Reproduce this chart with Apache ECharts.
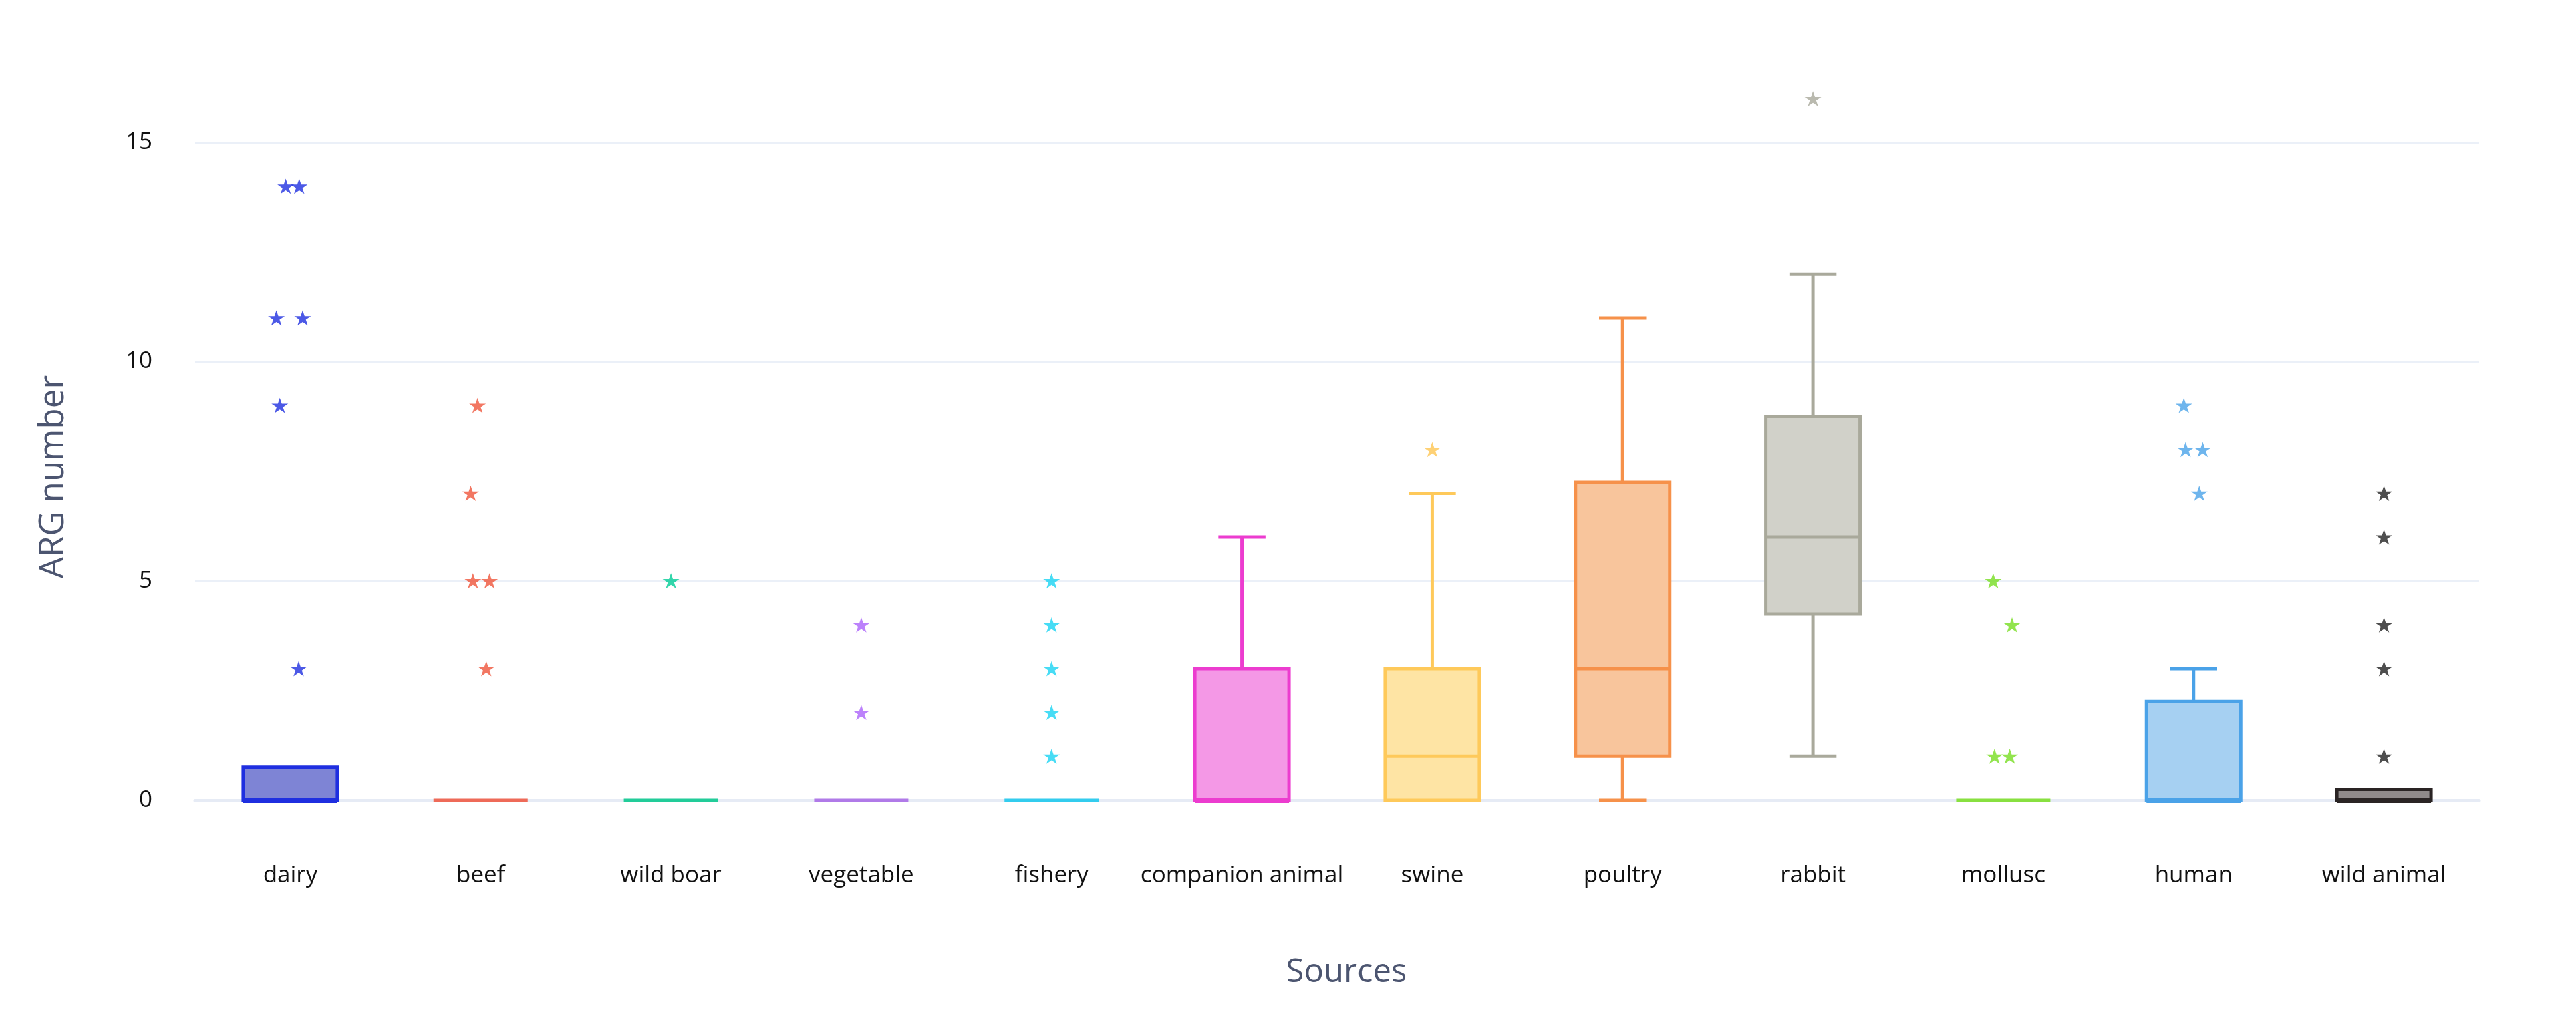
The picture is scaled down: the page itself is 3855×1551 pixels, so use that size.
<!DOCTYPE html>
<html>
<head>
<meta charset="utf-8">
<script src="https://cdn.jsdelivr.net/npm/echarts@6/dist/echarts.min.js"></script>
<style>html,body{margin:0;padding:0;background:#fff}#c{width:3855px;height:1551px}</style>
</head>
<body>
<div id="c"></div>
<script>
// ---- data ----
const categories = ['dairy','beef','wild boar','vegetable','fishery','companion animal','swine','poultry','rabbit','mollusc','human','wild animal'];
// [min, Q1, median, Q3, max] (whisker ends and box)
const boxMin    = [0,    0, 0, 0, 0, 0, 0, 0,    1,    0, 0,    0];
const boxQ1     = [0,    0, 0, 0, 0, 0, 0, 1,    4.25, 0, 0,    0];
const boxMedian = [0,    0, 0, 0, 0, 0, 1, 3,    6,    0, 0,    0];
const boxQ3     = [0.75, 0, 0, 0, 0, 3, 3, 7.25, 8.75, 0, 2.25, 0.25];
const boxMax    = [0.75, 0, 0, 0, 0, 6, 7, 11,   12,   0, 3,    0.25];
// outliers: category index, value, horizontal jitter (fraction of category band)
const outlierCat    = [0,0,0,0,0,0, 1,1,1,1,1, 2, 3,3, 4,4,4,4,4, 6, 8, 9,9,9,9, 10,10,10,10, 11,11,11,11,11];
const outlierValue  = [14,14,11,11,9,3, 9,7,5,5,3, 5, 4,2, 5,4,3,2,1, 8, 16, 5,4,1,1, 9,8,8,7, 7,6,4,3,1];
const outlierJitter = [-0.024,0.047,-0.073,0.065,-0.055,0.044, -0.016,-0.052,-0.04,0.047,0.03, 0, 0,0, 0,0,0,0,0, 0, 0, -0.053,0.046,-0.046,0.034, -0.051,-0.042,0.048,0.03, 0,0,0,0,0];
const yTicks = [0, 5, 10, 15];

// ---- styles ----
const lineColors = ['#1f2fe0','#ee6a58','#22cc99','#b07ae8','#33ccee','#ec3ccf','#fec95a','#f6914a','#a9a99b','#88e040','#4aa2e8','#2a2424'];
const fillColors = ['#7e84d5','#f6b4aa','#90e6cc','#d8bcf4','#99e6f6','#f498e6','#fee4a4','#f8c59c','#d1d1c9','#c4f0a0','#a6d0f2','#908a8a'];
const starColors = ['#1f2fe0','#ef553b','#00cc96','#ab63fa','#19d3f3','#ec3ccf','#fec552','#f6914a','#a9a99b','#77dd22','#4aa2e8','#222222'];
const STAR = 'path://M0,-100L22.45,-30.9L95.1,-30.9L36.3,11.8L58.8,80.9L0,38.2L-58.8,80.9L-36.3,11.8L-95.1,-30.9L-22.45,-30.9Z';

const boxData = categories.map((c, i) => [i, boxMin[i], boxQ1[i], boxMedian[i], boxQ3[i], boxMax[i]]);
const outlierData = outlierCat.map((ci, k) => ({
  value: [ci + outlierJitter[k], outlierValue[k]],
  itemStyle: { color: starColors[ci] }
}));

const chart = echarts.init(document.getElementById('c'), null, { renderer: 'canvas' });
const LW = 5;

function renderBox(params, api) {
  const i = api.value(0);
  const vmin = api.value(1), q1 = api.value(2), med = api.value(3), q3 = api.value(4), vmax = api.value(5);
  const band = api.size([1, 0])[0];
  const bw = band * 0.495;
  const x = api.coord([i, med])[0];
  const y = v => api.coord([i, v])[1];
  const col = lineColors[i], fill = fillColors[i];
  const ls = { stroke: col, lineWidth: LW, fill: null };
  const children = [];
  if (vmax > q3) {
    children.push({ type: 'line', shape: { x1: x, y1: y(q3), x2: x, y2: y(vmax) }, style: ls });
    children.push({ type: 'line', shape: { x1: x - bw / 4, y1: y(vmax), x2: x + bw / 4, y2: y(vmax) }, style: ls });
  }
  if (vmin < q1) {
    children.push({ type: 'line', shape: { x1: x, y1: y(q1), x2: x, y2: y(vmin) }, style: ls });
    children.push({ type: 'line', shape: { x1: x - bw / 4, y1: y(vmin), x2: x + bw / 4, y2: y(vmin) }, style: ls });
  }
  if (q3 > q1) {
    children.push({ type: 'rect', shape: { x: x - bw / 2, y: y(q3), width: bw, height: y(q1) - y(q3) },
      style: { fill: fill, stroke: col, lineWidth: LW } });
  }
  const medW = (q3 > q1 && med === q1) ? LW + 3 : LW;
  children.push({ type: 'line', shape: { x1: x - bw / 2, y1: y(med), x2: x + bw / 2, y2: y(med) },
    style: { stroke: col, lineWidth: medW, fill: null } });
  return { type: 'group', children: children };
}

const option = {
  backgroundColor: '#ffffff',
  animation: false,
  grid: { left: 292, right: 145, top: 82, bottom: 353, containLabel: false },
  xAxis: [{
    type: 'category',
    data: categories,
    boundaryGap: true,
    name: 'Sources',
    nameLocation: 'middle',
    nameGap: 234,
    nameTextStyle: { fontFamily: 'Open Sans', fontSize: 49, color: '#4c5570', padding: [0, 0, 0, 28] },
    axisLine: { show: true, lineStyle: { color: '#e6ebf5', width: 5 } },
    axisTick: { show: false },
    splitLine: { show: false },
    axisLabel: { fontFamily: 'Open Sans', fontSize: 35, color: '#111111', margin: 96, interval: 0 }
  }, {
    type: 'value', min: -0.5, max: 11.5, show: false
  }],
  yAxis: {
    type: 'value',
    min: 0, max: 17, interval: 5,
    name: 'ARG number',
    nameLocation: 'middle',
    nameGap: 186,
    nameTextStyle: { fontFamily: 'Open Sans', fontSize: 51, color: '#4c5570', padding: [0, 148, 0, 0] },
    axisLine: { show: false },
    axisTick: { show: false },
    axisLabel: { fontFamily: 'Open Sans', fontSize: 35, color: '#111111', margin: 64, showMaxLabel: false,
      formatter: v => (yTicks.indexOf(v) >= 0 ? String(v) : '') },
    splitLine: { show: true, showMaxLine: false, lineStyle: { color: '#ebf0f8', width: 3 } }
  },
  series: [{
    type: 'custom',
    name: 'box',
    xAxisIndex: 0,
    renderItem: renderBox,
    encode: { x: 0, y: [1, 2, 3, 4, 5] },
    data: boxData,
    z: 3
  }, {
    type: 'scatter',
    name: 'outliers',
    xAxisIndex: 1,
    symbol: STAR,
    symbolSize: [25, 24],
    symbolKeepAspect: true,
    data: outlierData,
    z: 4
  }]
};
chart.setOption(option);
</script>
</body>
</html>
